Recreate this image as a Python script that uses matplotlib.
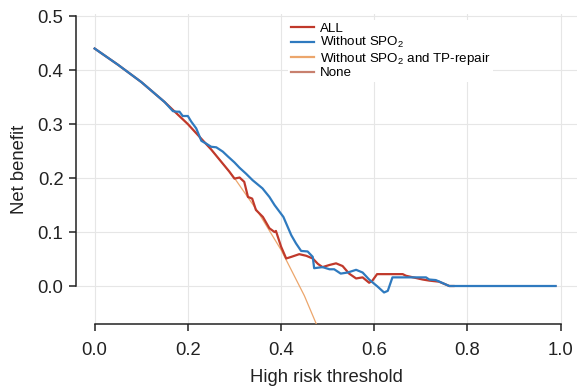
import matplotlib
import matplotlib.pyplot as plt

matplotlib.use("Agg")

plt.rcParams["font.family"] = ["Liberation Sans", "DejaVu Sans"]
plt.rcParams["mathtext.fontset"] = "custom"
plt.rcParams["mathtext.rm"] = "Liberation Sans"
plt.rcParams["mathtext.it"] = "Liberation Sans:italic"

# 데이터
all_t = [0, 0.05, 0.1, 0.15, 0.2, 0.25, 0.289, 0.3, 0.311, 0.321, 0.329, 0.338,
         0.346, 0.361, 0.375, 0.386, 0.389, 0.4, 0.411, 0.422, 0.439, 0.454, 0.468,
         0.479, 0.489, 0.504, 0.518, 0.532, 0.546, 0.561, 0.575, 0.589, 0.596, 0.606,
         0.661, 0.668, 0.704, 0.718, 0.739, 0.761, 0.77]
all_nb = [0.44, 0.41, 0.378, 0.341, 0.30, 0.253, 0.212, 0.199, 0.201, 0.193, 0.165, 0.162,
          0.141, 0.128, 0.107, 0.100, 0.102, 0.073, 0.051, 0.054, 0.059, 0.056, 0.051,
          0.041, 0.035, 0.039, 0.042, 0.037, 0.023, 0.014, 0.016, 0.006, 0.010, 0.022,
          0.022, 0.019, 0.012, 0.010, 0.008, 0.0, 0.0]

nospo2_t = [0, 0.05, 0.1, 0.15, 0.168, 0.176, 0.182, 0.189, 0.2, 0.207, 0.218, 0.229,
            0.239, 0.25, 0.261, 0.275, 0.286, 0.3, 0.311, 0.325, 0.339, 0.36, 0.375,
            0.386, 0.405, 0.414, 0.422, 0.432, 0.443, 0.457, 0.468, 0.471, 0.489, 0.504,
            0.514, 0.528, 0.543, 0.561, 0.575, 0.589, 0.607, 0.621, 0.629, 0.639, 0.711,
            0.718, 0.732, 0.761, 0.989]
nospo2_nb = [0.44, 0.41, 0.378, 0.341, 0.324, 0.323, 0.323, 0.315, 0.315, 0.305, 0.292, 0.269,
             0.264, 0.258, 0.257, 0.249, 0.240, 0.229, 0.219, 0.208, 0.196, 0.181, 0.165,
             0.150, 0.128, 0.110, 0.094, 0.079, 0.065, 0.064, 0.054, 0.033, 0.035, 0.031,
             0.031, 0.023, 0.025, 0.030, 0.025, 0.012, -0.001, -0.012, -0.009, 0.016, 0.016,
             0.012, 0.011, 0.0, 0.0]

notp_t = [0, 0.05, 0.1, 0.15, 0.2, 0.25, 0.3, 0.35, 0.4, 0.45, 0.5]
notp_nb = [0.44, 0.41, 0.378, 0.341, 0.30, 0.253, 0.20, 0.138, 0.067, -0.018, -0.12]

none_t = [0.76, 0.99]
none_nb = [0.0, 0.0]

fig = plt.figure(figsize=(5.77, 3.89), dpi=100)
ax = fig.add_axes([76 / 577, 65 / 389, 501 / 577, 310 / 389])

ax.plot(none_t, none_nb, color="#c8806e", linewidth=1.2, label="None", zorder=2)
ax.plot(notp_t, notp_nb, color="#eca66c", linewidth=0.9,
        label="Without SPO$_2$ and TP-repair", zorder=3)
ax.plot(all_t, all_nb, color="#c0392b", linewidth=1.6, label="ALL", zorder=4)
ax.plot(nospo2_t, nospo2_nb, color="#2f7abf", linewidth=1.6, label="Without SPO$_2$", zorder=5)

ax.set_xlim(-0.04, 1.035)
ax.set_ylim(-0.0704, 0.504)
ax.set_xticks([0, 0.2, 0.4, 0.6, 0.8, 1.0])
ax.set_yticks([0, 0.1, 0.2, 0.3, 0.4, 0.5])
ax.xaxis.set_major_formatter(matplotlib.ticker.FormatStrFormatter("%.1f"))
ax.yaxis.set_major_formatter(matplotlib.ticker.FormatStrFormatter("%.1f"))
ax.grid(True, color="#e6e6e6", linewidth=0.8)
ax.set_axisbelow(True)

for side in ["top", "right"]:
    ax.spines[side].set_visible(False)
ax.spines["left"].set_bounds(0, 0.5)
ax.spines["bottom"].set_bounds(0, 1.0)
for side in ["left", "bottom"]:
    ax.spines[side].set_linewidth(1.1)
    ax.spines[side].set_color("#222222")

ax.tick_params(axis="both", labelsize=13.3, length=5, width=1.1, color="#222222",
               labelcolor="#222222")
ax.tick_params(axis="x", pad=8)
ax.tick_params(axis="y", pad=4)

ax.set_xlabel("High risk threshold", fontsize=13.3, color="#222222", labelpad=7)
ax.set_ylabel("Net benefit", fontsize=13.3, color="#222222", labelpad=7)

handles, labels = ax.get_legend_handles_labels()
order = [2, 3, 1, 0]
leg = fig.legend([handles[i] for i in order], [labels[i] for i in order],
                 loc="upper left", bbox_to_anchor=(288 / 577, 1 - 20 / 389),
                 fontsize=9.6, frameon=True, facecolor="white", edgecolor="none",
                 framealpha=1, borderpad=0.2, borderaxespad=0, handlelength=1.75,
                 handletextpad=0.45, labelspacing=0.02)
for line in leg.get_lines():
    line.set_linewidth(1.6)

fig.savefig("out.png", dpi=100, facecolor="white")
